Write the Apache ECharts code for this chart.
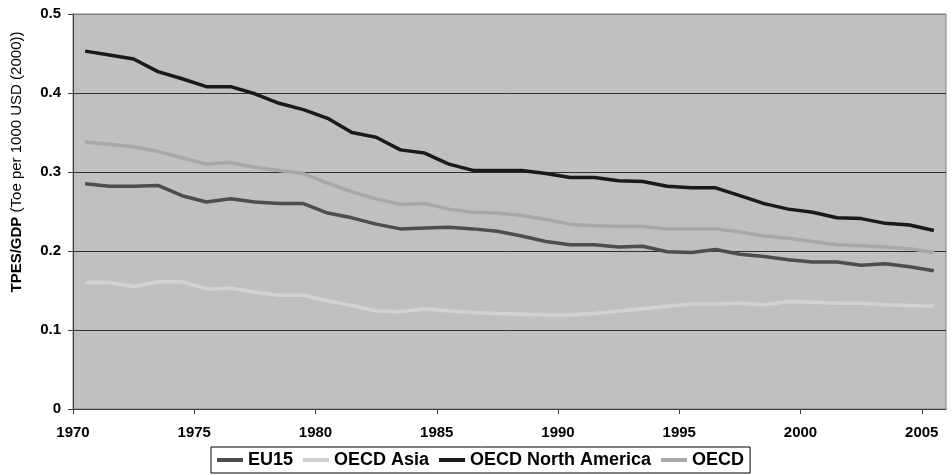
<!DOCTYPE html>
<html>
<head>
<meta charset="utf-8">
<script src="https://cdn.jsdelivr.net/npm/echarts@6/dist/echarts.min.js"></script>
<style>
html,body{margin:0;padding:0;background:#fff;}
#c{width:952px;height:475px;}
</style>
</head>
<body>
<div id="c"></div>
<script>
var years = [];
for (var y = 1970; y <= 2005; y++) years.push(y);
var xTickLabels = [1970, 1975, 1980, 1985, 1990, 1995, 2000, 2005];
var yTickLabels = [0, 0.1, 0.2, 0.3, 0.4, 0.5];

var eu15 = [0.285,0.282,0.282,0.283,0.270,0.262,0.266,0.262,0.260,0.260,0.248,0.242,0.234,0.228,0.229,0.230,0.228,0.225,0.219,0.212,0.208,0.208,0.205,0.206,0.199,0.198,0.202,0.196,0.193,0.189,0.186,0.186,0.182,0.184,0.180,0.175];
var oecdAsia = [0.160,0.160,0.155,0.161,0.161,0.152,0.153,0.148,0.144,0.144,0.137,0.131,0.124,0.123,0.127,0.124,0.122,0.121,0.120,0.119,0.119,0.121,0.124,0.127,0.130,0.133,0.133,0.134,0.132,0.136,0.135,0.134,0.134,0.132,0.131,0.130];
var oecdNA = [0.453,0.448,0.443,0.427,0.418,0.408,0.408,0.399,0.387,0.379,0.368,0.350,0.344,0.328,0.324,0.310,0.302,0.302,0.302,0.298,0.293,0.293,0.289,0.288,0.282,0.280,0.280,0.270,0.260,0.253,0.249,0.242,0.241,0.235,0.233,0.226];
var oecd = [0.338,0.335,0.332,0.326,0.318,0.310,0.312,0.306,0.302,0.298,0.286,0.275,0.266,0.259,0.260,0.253,0.249,0.248,0.245,0.240,0.234,0.232,0.231,0.231,0.228,0.228,0.228,0.224,0.219,0.216,0.212,0.208,0.207,0.205,0.203,0.198];

var seriesNames = ['EU15', 'OECD Asia', 'OECD North America', 'OECD'];
var seriesColors = ['#4d4d4d', '#d2d2d2', '#1a1a1a', '#a8a8a8'];
var seriesValues = [eu15, oecdAsia, oecdNA, oecd];

// each annual value sits in the middle of its year on the time scale
function pairs(vals) {
  return vals.map(function (v, i) { return [years[i] + 0.5, v]; });
}

var FONT = 'Liberation Sans, Arial, sans-serif';
var chart = echarts.init(document.getElementById('c'), null, {renderer: 'canvas'});
chart.setOption({
  animation: false,
  backgroundColor: '#ffffff',
  grid: {
    left: 73, right: 6, top: 14, bottom: 66,
    show: true, backgroundColor: '#c0c0c0', borderColor: '#808080', borderWidth: 1
  },
  xAxis: {
    type: 'value',
    min: 1970, max: 2006, interval: 5,
    axisLine: {show: true, onZero: false, lineStyle: {color: '#404040', width: 1}},
    axisTick: {show: true, length: 5, customValues: xTickLabels, lineStyle: {color: '#404040'}},
    axisLabel: {
      customValues: xTickLabels, margin: 16,
      fontFamily: FONT, fontSize: 15, fontWeight: 'bold', color: '#000',
      formatter: function (v) { return String(v); }
    },
    splitLine: {show: false}
  },
  yAxis: {
    type: 'value',
    min: 0, max: 0.5, interval: 0.1,
    axisLine: {show: true, lineStyle: {color: '#404040', width: 1}},
    axisTick: {show: true, length: 5, lineStyle: {color: '#404040'}},
    axisLabel: {
      margin: 12, fontFamily: FONT, fontSize: 15, fontWeight: 'bold', color: '#000',
      formatter: function (v) { return String(Math.round(v * 10) / 10); }
    },
    splitLine: {show: true, lineStyle: {color: ['#303030','#303030','#303030','#303030','#303030','#808080'], width: 1}}
  },
  legend: {
    left: 211, top: 447,
    padding: [3, 6, 3, 6],
    itemGap: 10, itemWidth: 26, itemHeight: 4,
    icon: 'rect',
    backgroundColor: '#ffffff', borderColor: '#000000', borderWidth: 1, borderRadius: 0,
    textStyle: {fontFamily: FONT, fontSize: 18, fontWeight: 'bold', color: '#000', lineHeight: 20},
    data: seriesNames
  },
  graphic: [{
    type: 'text',
    x: 17, y: 162,
    rotation: Math.PI / 2,
    style: {
      text: '{b|TPES/GDP} {n|(Toe per 1000 USD (2000))}',
      align: 'center', verticalAlign: 'middle',
      rich: {
        b: {fontFamily: FONT, fontSize: 15, fontWeight: 'bold', fill: '#000'},
        n: {fontFamily: FONT, fontSize: 15, fontWeight: 'normal', fill: '#000'}
      },
      fontFamily: FONT, fontSize: 15, fill: '#000'
    }
  }],
  series: seriesNames.map(function (name, k) {
    return {
      name: name, type: 'line',
      data: pairs(seriesValues[k]),
      showSymbol: false, symbol: 'none',
      smooth: false,
      color: seriesColors[k],
      lineStyle: {color: seriesColors[k], width: 3.5},
      itemStyle: {color: seriesColors[k]}
    };
  })
});
</script>
</body>
</html>
